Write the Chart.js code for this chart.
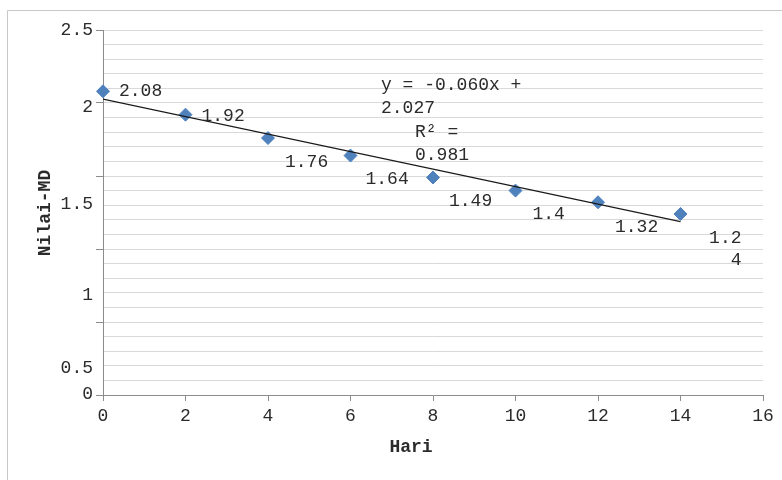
<!DOCTYPE html>
<html>
<head>
<meta charset="utf-8">
<script src="https://cdn.jsdelivr.net/npm/chart.js@4.4.1/dist/chart.umd.min.js"></script>
<style>
  html, body { margin: 0; padding: 0; background: #ffffff; }
  canvas { display: block; }
</style>
</head>
<body>
<canvas id="chart" width="782" height="480"></canvas>
<script>
// Nilai-MD per hari
const days = [0, 2, 4, 6, 8, 10, 12, 14];
const mdValues = [2.08, 1.92, 1.76, 1.64, 1.49, 1.4, 1.32, 1.24];

// Axis ticks
const xTickValues = [0, 2, 4, 6, 8, 10, 12, 14, 16];
const yTickLabels = ['0', '0.5', '1', '1.5', '2', '2.5'];
const yTickLabelAt = [0.007, 0.185, 0.685, 1.308, 1.973, 2.5];

// Linear trend line
const trendSlope = -0.060;
const trendIntercept = 2.027;
const trendR2 = 0.981;
const trendRange = [0, 14];

const FONT = "'Courier New', 'Liberation Mono', monospace";
const TEXT = '#2b2b2b';
const AXIS = '#8c8c8c';
const GRID = '#d9d9d9';

const trendPoints = trendRange.map(x => ({ x, y: trendIntercept + trendSlope * x }));
const mdPoints = days.map((d, i) => ({ x: d, y: mdValues[i] }));

// where each value label sits relative to its marker
const labelPlace = [
  { dx: 16, dy: 0 },
  { dx: 16, dy: 2 },
  { dx: 17, dy: 24 },
  { dx: 15, dy: 24 },
  { dx: 16, dy: 24 },
  { dx: 17, dy: 24 },
  { dx: 17, dy: 25 },
  { dx: 61, dy: 24, wrap: 3, align: 'right' }
];

const decorations = {
  id: 'decorations',
  beforeDraw(chart) {
    const ctx = chart.ctx;
    ctx.save();
    ctx.strokeStyle = '#c8c8c8';
    ctx.lineWidth = 1;
    ctx.beginPath();
    ctx.moveTo(7.5, 480);
    ctx.lineTo(7.5, 10.5);
    ctx.lineTo(782, 10.5);
    ctx.stroke();
    ctx.restore();
  },
  afterDatasetsDraw(chart) {
    const { ctx, scales: { y } } = chart;
    ctx.save();
    ctx.fillStyle = TEXT;
    ctx.font = '18px ' + FONT;
    ctx.textBaseline = 'middle';

    // y tick labels
    ctx.textAlign = 'right';
    yTickLabels.forEach((t, i) => {
      ctx.fillText(t, 93, y.getPixelForValue(yTickLabelAt[i]));
    });

    // value labels
    const meta = chart.getDatasetMeta(1);
    meta.data.forEach((pt, i) => {
      const p = labelPlace[i];
      const txt = String(mdValues[i]);
      const lines = p.wrap ? [txt.slice(0, p.wrap), txt.slice(p.wrap)] : [txt];
      ctx.textAlign = p.align || 'left';
      lines.forEach((ln, k) => ctx.fillText(ln, pt.x + p.dx, pt.y + p.dy + k * 22));
    });

    // trend equation
    ctx.textAlign = 'left';
    const eq = [
      ['y = ' + trendSlope.toFixed(3) + 'x +', 381, 85],
      [trendIntercept.toFixed(3), 381, 108],
      ['R\u00B2 =', 415, 132],
      [trendR2.toFixed(3), 415, 155]
    ];
    eq.forEach(([t, x, yy]) => ctx.fillText(t, x, yy));

    // axis titles
    ctx.font = 'bold 18px ' + FONT;
    ctx.textAlign = 'center';
    ctx.fillText('Hari', 411, 447);
    ctx.translate(45, 213);
    ctx.rotate(-Math.PI / 2);
    ctx.fillText('Nilai-MD', 0, 0);
    ctx.restore();
  }
};

new Chart(document.getElementById('chart'), {
  type: 'scatter',
  data: {
    datasets: [
      {
        type: 'line',
        label: 'Linear',
        data: trendPoints,
        borderColor: '#1a1a1a',
        borderWidth: 1.2,
        pointRadius: 0,
        fill: false,
        tension: 0
      },
      {
        label: 'Nilai-MD',
        data: mdPoints,
        pointStyle: 'rectRot',
        pointRadius: 6.5,
        backgroundColor: '#4f81bd',
        borderColor: '#4f81bd',
        borderWidth: 1,
        clip: false
      }
    ]
  },
  options: {
    responsive: false,
    animation: false,
    devicePixelRatio: 1,
    layout: { padding: { left: 0, top: 30, right: 19, bottom: 0 } },
    plugins: {
      legend: { display: false },
      tooltip: { enabled: false }
    },
    scales: {
      x: {
        type: 'linear',
        min: 0,
        max: 16,
        afterBuildTicks(scale) { scale.ticks = xTickValues.map(v => ({ value: v })); },
        ticks: {
          color: TEXT,
          font: { family: FONT, size: 18 },
          padding: 4,
          maxRotation: 0,
          autoSkip: false
        },
        grid: { drawOnChartArea: false, tickLength: 6, color: AXIS },
        border: { color: AXIS },
        afterFit(scale) { scale.height = 85; }
      },
      y: {
        type: 'linear',
        min: 0,
        max: 2.5,
        ticks: { display: false, stepSize: 0.1, maxTicksLimit: 40, font: { size: 8 } },
        grid: {
          color: GRID,
          tickLength: 7,
          tickColor: c => {
            const v = c.tick ? c.tick.value * 2 : 0.5;
            return Math.abs(v - Math.round(v)) < 1e-6 ? AXIS : 'rgba(0,0,0,0)';
          }
        },
        border: { color: AXIS },
        afterFit(scale) { scale.width = 103; }
      }
    }
  },
  plugins: [decorations]
});
</script>
</body>
</html>
